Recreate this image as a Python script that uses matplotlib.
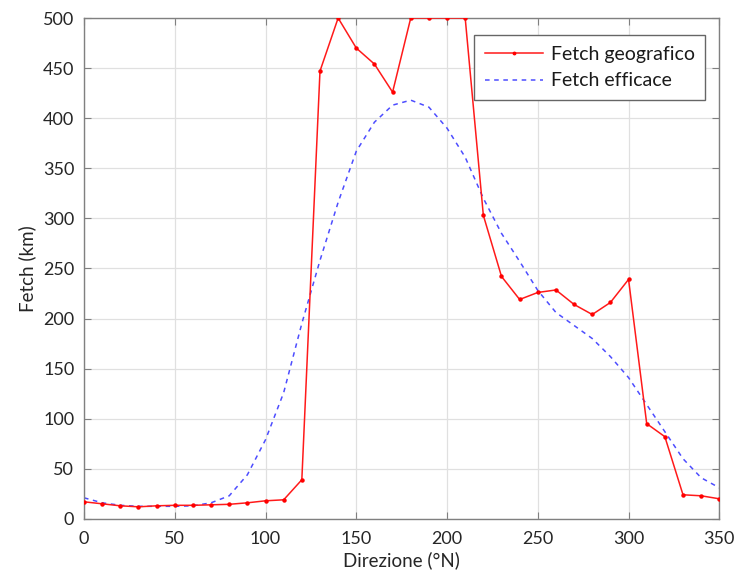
import matplotlib
matplotlib.use("Agg")
import matplotlib.pyplot as plt
import numpy as np

plt.rcParams['font.family'] = ['Lato', 'DejaVu Sans']

# Directions (deg from North)
direzione = list(range(0, 360, 10))

# Geographic fetch (km), capped at 500
fetch_geografico = [17, 15, 13, 12, 13, 13.5, 13.5, 14, 14.5, 16, 18, 19,
                    39, 447, 500, 470, 454, 426, 500, 500, 500, 500, 303, 242,
                    219, 226, 228.5, 214, 204, 216, 239, 95, 82, 24, 23, 20]

# Effective fetch (km)
fetch_efficace = [21, 16, 13.5, 12.5, 12.5, 12.5, 13, 16, 23, 44, 79, 126,
                  195, 258, 316, 367, 396, 413, 418, 411, 390, 361, 320, 285,
                  257, 228, 206, 193, 180, 162, 141, 114, 87, 60, 41, 31]

xticks = [0, 50, 100, 150, 200, 250, 300, 350]
yticks = list(range(0, 501, 50))

fig = plt.figure(figsize=(7.37, 5.81), dpi=100)
ax = fig.add_axes([0.114, 0.107, 0.862, 0.862])

ax.plot(direzione, fetch_geografico, color=(1.0, 0.1, 0.1), lw=1.1,
        marker='o', ms=2.2, mec=(1.0, 0.0, 0.0), mfc=(1.0, 0.0, 0.0),
        label='Fetch geografico', zorder=3)
ax.plot(direzione, fetch_efficace, color=(0.3, 0.3, 1.0), lw=1.1,
        linestyle=(0, (3, 3)), label='Fetch efficace', zorder=2)

ax.set_xlim(0, 350)
ax.set_ylim(0, 500)
ax.set_xticks(xticks)
ax.set_yticks(yticks)
ax.grid(True, color=(0.88, 0.88, 0.88), lw=0.9)
ax.set_axisbelow(True)

axis_col = (0.5, 0.5, 0.5)
for s in ax.spines.values():
    s.set_color(axis_col)
    s.set_linewidth(1.0)
ax.tick_params(direction='in', top=True, right=True, length=5,
               color=axis_col, labelsize=13, labelcolor=(0.15, 0.15, 0.15))
ax.tick_params(axis='x', pad=9)
ax.tick_params(axis='y', pad=7)

ax.set_xlabel('Direzione (°N)', fontsize=13.5, color=(0.15, 0.15, 0.15), labelpad=3)
ax.set_ylabel('Fetch (km)', fontsize=13.5, color=(0.15, 0.15, 0.15), labelpad=5)

leg = ax.legend(loc='upper right', bbox_to_anchor=(0.978, 0.966), fontsize=14,
                fancybox=False, framealpha=1, edgecolor=(0.4, 0.4, 0.4),
                handlelength=3.0, borderpad=0.55, labelspacing=0.5,
                handletextpad=0.4, markerscale=0.8, borderaxespad=0)
leg.get_frame().set_linewidth(1.0)
for t in leg.get_texts():
    t.set_color((0.1, 0.1, 0.1))

fig.savefig('out.png', dpi=100)
